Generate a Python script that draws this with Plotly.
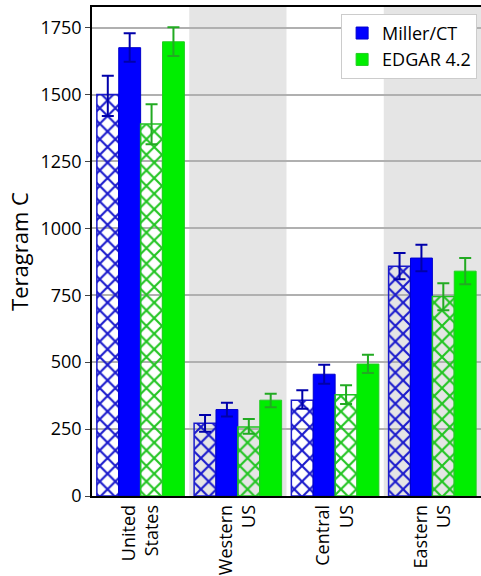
import plotly.graph_objects as go

regions = ["United<br>States", "Western<br>US", "Central<br>US", "Eastern<br>US"]
x_pos = [0, 1, 2, 3]

# Hatched blue (Miller/CT, hatched variant)
blue_hatch = [1500, 272, 358, 858]
blue_hatch_hi = [1570, 303, 395, 908]
blue_hatch_lo = [1420, 240, 326, 810]

# Solid blue (Miller/CT)
blue_solid = [1675, 323, 455, 889]
blue_solid_hi = [1729, 348, 490, 939]
blue_solid_lo = [1622, 297, 419, 840]

# Hatched green (EDGAR 4.2, hatched variant)
green_hatch = [1390, 258, 378, 745]
green_hatch_hi = [1464, 288, 414, 795]
green_hatch_lo = [1314, 233, 344, 694]

# Solid green (EDGAR 4.2)
green_solid = [1697, 358, 493, 840]
green_solid_hi = [1751, 382, 528, 889]
green_solid_lo = [1644, 332, 460, 791]

y_ticks = [0, 250, 500, 750, 1000, 1250, 1500, 1750]

BLUE = "#0000ff"
GREEN = "#00ee00"
DBLUE = "#0000aa"
DGREEN = "#22aa22"


def err(vals, hi, lo, color):
    return dict(type="data", symmetric=False,
                array=[h - v for h, v in zip(hi, vals)],
                arrayminus=[v - l for v, l in zip(vals, lo)],
                color=color, thickness=2, width=6)


fig = go.Figure()

fig.add_trace(go.Bar(
    x=x_pos, y=blue_hatch, showlegend=False,
    marker=dict(color="rgba(0,0,0,0)", line=dict(color="#1a1acc", width=1.5),
                pattern=dict(shape="x", fgcolor="#1a1acc", bgcolor="rgba(0,0,0,0)",
                             fgopacity=1, size=11, solidity=0.35)),
    error_y=err(blue_hatch, blue_hatch_hi, blue_hatch_lo, DBLUE)))

fig.add_trace(go.Bar(
    x=x_pos, y=blue_solid, name="Miller/CT",
    marker=dict(color=BLUE, line=dict(color="#0000cc", width=1)),
    error_y=err(blue_solid, blue_solid_hi, blue_solid_lo, DBLUE)))

fig.add_trace(go.Bar(
    x=x_pos, y=green_hatch, showlegend=False,
    marker=dict(color="rgba(0,0,0,0)", line=dict(color="#22c422", width=1.5),
                pattern=dict(shape="x", fgcolor="#22c422", bgcolor="rgba(0,0,0,0)",
                             fgopacity=1, size=11, solidity=0.35)),
    error_y=err(green_hatch, green_hatch_hi, green_hatch_lo, DGREEN)))

fig.add_trace(go.Bar(
    x=x_pos, y=green_solid, name="EDGAR 4.2",
    marker=dict(color=GREEN, line=dict(color="#22cc22", width=1)),
    error_y=err(green_solid, green_solid_hi, green_solid_lo, DGREEN)))

# alternating grey bands
for i in [1, 3]:
    fig.add_shape(type="rect", xref="x", yref="paper", x0=i - 0.5, x1=i + 0.5,
                  y0=0, y1=1, fillcolor="#e5e5e5", line=dict(width=0), layer="below")

fig.update_layout(
    width=481, height=576,
    margin=dict(l=92, r=0, t=7, b=80),
    paper_bgcolor="white", plot_bgcolor="white",
    barmode="group", bargap=0.1, bargroupgap=0,
    font=dict(family="Open Sans, DejaVu Sans, sans-serif", color="black"),
    legend=dict(x=0.99, y=0.986, xanchor="right", yanchor="top",
                bgcolor="white", bordercolor="#cccccc", borderwidth=1,
                font=dict(size=18), tracegroupgap=0, itemwidth=30),
)

fig.update_xaxes(
    range=[-0.5, 3.5], tickvals=x_pos, ticktext=regions, tickangle=-90,
    tickfont=dict(size=18), showgrid=False, showline=True, linecolor="black",
    linewidth=1.5, ticks="", mirror=True, automargin=False,
    zeroline=False)

fig.update_yaxes(
    range=[0, 1827], tickvals=y_ticks, tickfont=dict(size=18),
    title=dict(text="Teragram C", font=dict(size=22), standoff=6),
    showgrid=True, gridcolor="#b0b0b0", gridwidth=1.5,
    showline=True, linecolor="black", linewidth=1.5, ticks="outside", ticklen=5,
    mirror=True, automargin=False, zeroline=False)

fig.write_html("out.html", config={"displayModeBar": False},
               post_script="document.body.style.margin='0';document.body.style.overflow='hidden';")
